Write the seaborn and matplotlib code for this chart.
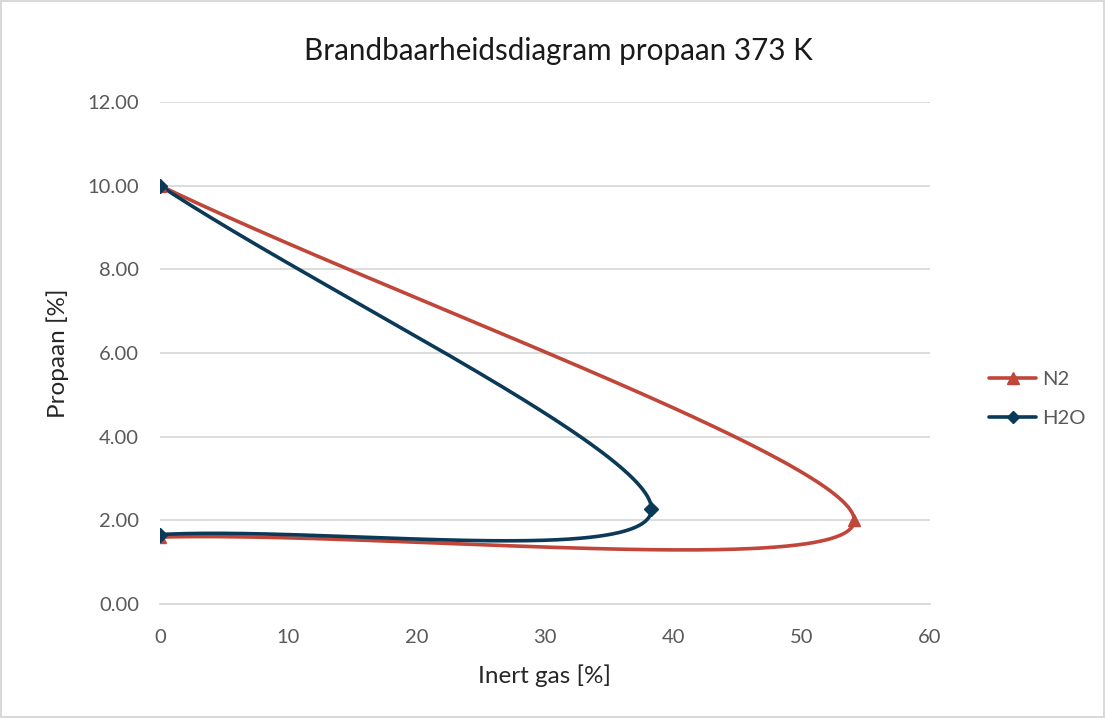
import numpy as np
import pandas as pd
import matplotlib
matplotlib.use("Agg")
import matplotlib.pyplot as plt
import seaborn as sns
from matplotlib.lines import Line2D

# data (Excel smoothed line through 3 points)
inert_n2 = [0, 54.1, 0]
propaan_n2 = [10.0, 2.0, 1.6]
inert_h2o = [0, 38.3, 0]
propaan_h2o = [10.0, 2.27, 1.66]

red = '#C0463A'
navy = '#0B3A58'
grey_txt = '#595959'


def excel_smooth(xs, ys, n=200):
    # bezier through the points, Catmull-Rom tangents (1/6), ends use a mirrored phantom point
    P = np.column_stack([xs, ys]).astype(float)
    out = []
    for i in range(len(P) - 1):
        p1, p2 = P[i], P[i + 1]
        p0 = P[i - 1] if i > 0 else 2 * p1 - p2
        p3 = P[i + 2] if i + 2 < len(P) else 2 * p2 - p1
        c1 = p1 + (p2 - p0) / 6
        c2 = p2 - (p3 - p1) / 6
        t = np.linspace(0, 1, n)[:, None]
        seg = (1 - t) ** 3 * p1 + 3 * (1 - t) ** 2 * t * c1 + 3 * (1 - t) * t ** 2 * c2 + t ** 3 * p2
        out.append(seg if i == 0 else seg[1:])
    out = np.vstack(out)
    return pd.DataFrame({'x': out[:, 0], 'y': out[:, 1]})


sns.set_style('white')
plt.rcParams['font.family'] = ['Lato', 'DejaVu Sans']

fig = plt.figure(figsize=(11.05, 7.18), dpi=100)
fig.patch.set_edgecolor('#d9d9d9')
fig.patch.set_linewidth(1.5)
ax = fig.add_axes([0.1448, 0.1588, 0.6968, 0.6992])

n2 = excel_smooth(inert_n2, propaan_n2)
h2o = excel_smooth(inert_h2o, propaan_h2o)

sns.lineplot(data=n2, x='x', y='y', sort=False, color=red, linewidth=2.6, ax=ax, estimator=None)
sns.lineplot(data=h2o, x='x', y='y', sort=False, color=navy, linewidth=2.6, ax=ax, estimator=None)
ax.plot(inert_n2, propaan_n2, linestyle='none', marker='^', markersize=9, color=red, zorder=5)
ax.plot(inert_h2o, propaan_h2o, linestyle='none', marker='D', markersize=7, color=navy, zorder=6)

ax.set_xlim(0, 60)
ax.set_ylim(0, 12)
ax.set_xticks(range(0, 61, 10))
ax.set_yticks(np.arange(0, 12.1, 2))
ax.set_yticklabels([f'{v:.2f}' for v in np.arange(0, 12.1, 2)])
ax.grid(axis='y', color='#d9d9d9', linewidth=1.3)
ax.set_axisbelow(True)
for s in ['top', 'right', 'left']:
    ax.spines[s].set_visible(False)
ax.spines['bottom'].set_color('#d9d9d9')
ax.spines['bottom'].set_linewidth(1.3)
ax.tick_params(axis='x', length=6, color='#d9d9d9', width=1.3, pad=12, labelsize=14.5, labelcolor=grey_txt)
ax.tick_params(axis='y', length=0, pad=15, labelsize=14.5, labelcolor=grey_txt)

ax.set_xlabel('Inert gas [%]', fontsize=17.5, color='#262626', labelpad=13)
ax.set_ylabel('Propaan [%]', fontsize=17.5, color='#262626', labelpad=13)
fig.text(0.505, 0.929, 'Brandbaarheidsdiagram propaan 373 K', ha='center', va='center',
         fontsize=21.3, color='#1a1a1a')

handles = [Line2D([], [], color=red, marker='^', linewidth=2.6, markersize=8),
           Line2D([], [], color=navy, marker='D', linewidth=2.6, markersize=6)]
fig.legend(handles, ['N2', 'H2O'], loc='center left', bbox_to_anchor=(0.879, 0.444),
           frameon=False, fontsize=14.5, labelspacing=1.1, handlelength=2.3, handletextpad=0.3,
           labelcolor=grey_txt)

fig.savefig('out.png', dpi=100, edgecolor=fig.get_edgecolor())
